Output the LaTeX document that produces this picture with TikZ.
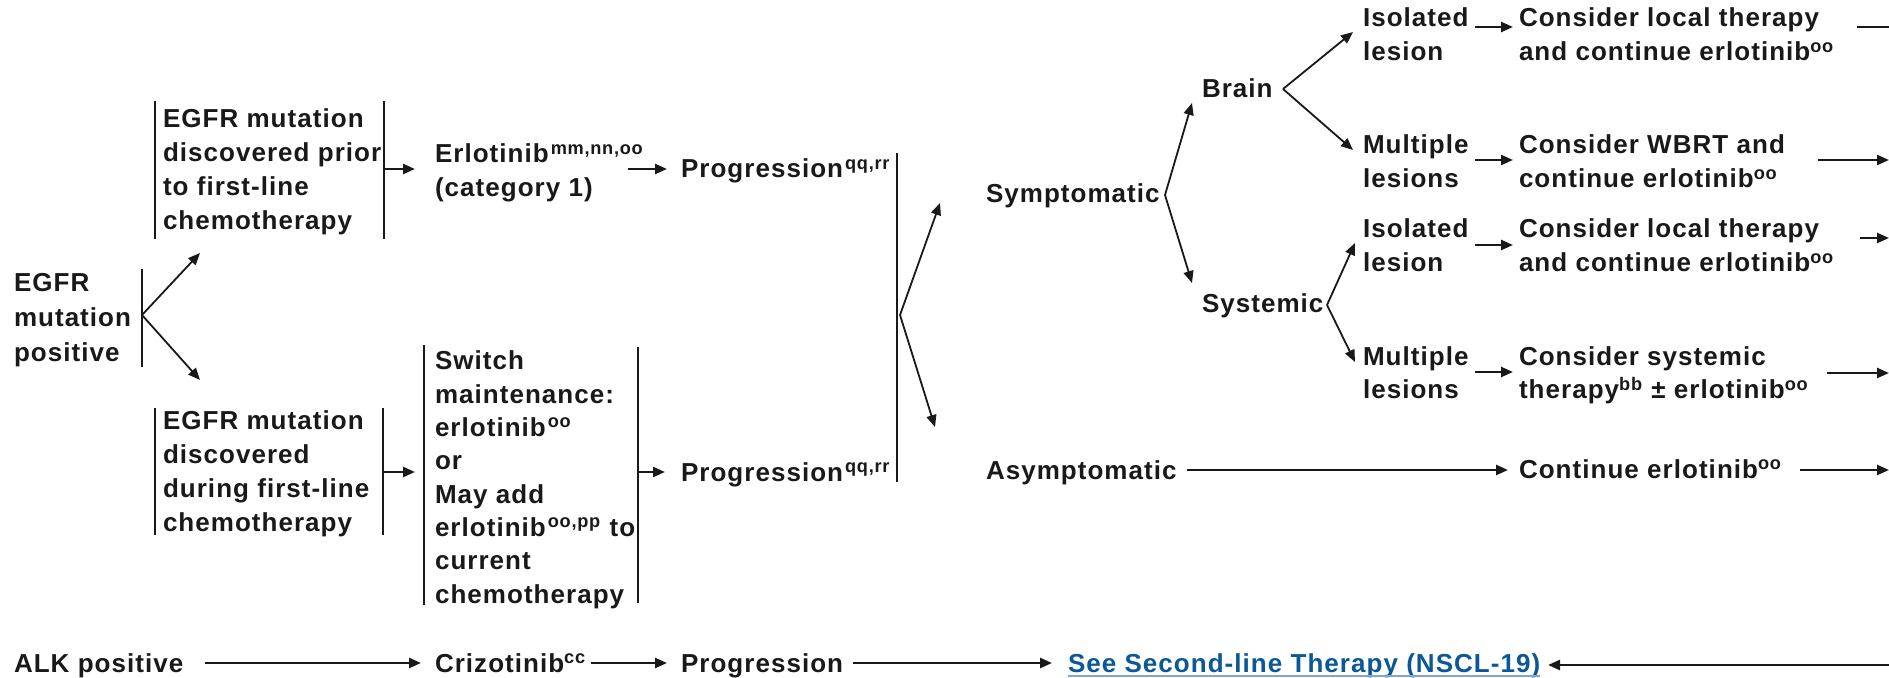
\documentclass[tikz,border=0pt]{standalone}
\usepackage{fontspec}
\setmainfont{Liberation Sans}[LetterSpace=4]
\usetikzlibrary{arrows.meta}
\definecolor{linkblue}{RGB}{10,88,150}
\definecolor{ulblue}{RGB}{130,165,205}
\definecolor{ink}{RGB}{25,25,25}
\newcommand\supx[1]{\kern1pt\textsuperscript{#1}}
\begin{document}
\begin{tikzpicture}[x=0.5pt,y=-0.5pt,
  txt/.style={anchor=base west, inner sep=0pt, outer sep=0pt, align=left, text=ink,
              font=\fontsize{13}{17}\selectfont\bfseries},
  arr/.style={draw=ink, line width=1.2pt, -{Triangle[length=6pt,width=5pt]}},
  diag/.style={draw=ink, line width=0.9pt, -{Triangle[length=6pt,width=5pt]}},
  plain/.style={draw=ink, line width=1.2pt},
  bar/.style={draw=ink, line width=1.3pt}]
\useasboundingbox (0,0) rectangle (1889,678);

% ---------- nodes (multi-line nodes placed by the baseline of their last line) ----------
\node[txt, font=\fontsize{13}{17.5}\selectfont\bfseries] (egfr) at (14,362) {EGFR\\mutation\\positive};
\node[txt] (prior) at (163,230) {EGFR mutation\\discovered prior\\to first-line\\chemotherapy};
\node[txt] (during) at (163,531) {EGFR mutation\\discovered\\during first-line\\chemotherapy};
\node[txt] (erl) at (435,197) {Erlotinib\supx{mm,nn,oo}\\(category 1)};
\node[txt] (prog1) at (681,178) {Progression\supx{qq,rr}};
\node[txt, font=\fontsize{13}{16.65}\selectfont\bfseries] (switch) at (435,603)
  {Switch\\maintenance:\\erlotinib\supx{oo}\\or\\May add\\erlotinib\supx{oo,pp} to\\current\\chemotherapy};
\node[txt] (prog2) at (681,481) {Progression\supx{qq,rr}};
\node[txt] (symp) at (986,203) {Symptomatic};
\node[txt] (asymp) at (986,480) {Asymptomatic};
\node[txt] (brain) at (1202,98) {Brain};
\node[txt] (syst) at (1202,313) {Systemic};
\node[txt] (iso1) at (1363,61) {Isolated\\lesion};
\node[txt] (mul1) at (1363,188) {Multiple\\lesions};
\node[txt] (iso2) at (1363,272) {Isolated\\lesion};
\node[txt] (mul2) at (1363,399) {Multiple\\lesions};
\node[txt] (loc1) at (1519,61) {Consider local therapy\\and continue erlotinib\textsuperscript{oo}};
\node[txt] (wbrt) at (1519,188) {Consider WBRT and\\continue erlotinib\textsuperscript{oo}};
\node[txt] (loc2) at (1519,272) {Consider local therapy\\and continue erlotinib\textsuperscript{oo}};
\node[txt] (sysT) at (1519,399) {Consider systemic\\therapy\textsuperscript{bb} ± erlotinib\textsuperscript{oo}};
\node[txt] (cont) at (1519,478) {Continue erlotinib\textsuperscript{oo}};
\node[txt] (alk) at (14,672) {ALK positive};
\node[txt] (criz) at (435,672) {Crizotinib\textsuperscript{cc}};
\node[txt] (prog3) at (681,672) {Progression};
\node[txt, text=linkblue] (see) at (1068,672) {See Second-line Therapy (NSCL-19)};
\draw[ulblue, line width=0.6pt] ([yshift=-2pt]see.base west) -- ([yshift=-2pt]see.base east);

% ---------- brackets ----------
\draw[bar] (142,269) -- (142,367);
\draw[bar] (155,101) -- (155,239);
\draw[bar] (384,101) -- (384,239);
\draw[bar] (155,408) -- (155,535);
\draw[bar] (383,408) -- (383,535);
\draw[bar] (424,345) -- (424,605);
\draw[bar] (638,347) -- (638,603);
\draw[bar] (897,153) -- (897,482);

% ---------- coordinates ----------
\coordinate (b0) at (142,315);  \coordinate (b0u) at (200,253); \coordinate (b0d) at (200,380);
\coordinate (p1) at (384,169);  \coordinate (p1e) at (415,169);
\coordinate (d1) at (383,472);  \coordinate (d1e) at (415,472);
\coordinate (e1) at (628,169);  \coordinate (e1e) at (667,169);
\coordinate (s1) at (638,472);  \coordinate (s1e) at (665,472);
\coordinate (g0) at (900,315);  \coordinate (g0u) at (940,203); \coordinate (g0d) at (935,427);
\coordinate (sy) at (1165,195); \coordinate (syu) at (1192,103); \coordinate (syd) at (1192,283);
\coordinate (br) at (1283,89);  \coordinate (bru) at (1353,32);  \coordinate (brd) at (1353,150);
\coordinate (st) at (1327,305); \coordinate (stu) at (1355,243); \coordinate (std) at (1355,362);
\coordinate (i1) at (1475,27);  \coordinate (i1e) at (1513,27);
\coordinate (m1) at (1475,160); \coordinate (m1e) at (1513,160);
\coordinate (i2) at (1475,245); \coordinate (i2e) at (1513,245);
\coordinate (m2) at (1475,372); \coordinate (m2e) at (1513,372);
\coordinate (r1) at (1857,27);  \coordinate (r1e) at (1889,27);
\coordinate (r2) at (1818,160); \coordinate (r2e) at (1889,160);
\coordinate (r3) at (1860,238); \coordinate (r3e) at (1889,238);
\coordinate (r4) at (1827,373); \coordinate (r4e) at (1889,373);
\coordinate (r5) at (1800,470); \coordinate (r5e) at (1889,470);
\coordinate (as) at (1187,470); \coordinate (ase) at (1508,470);
\coordinate (k1) at (205,663);  \coordinate (k1e) at (421,663);
\coordinate (k2) at (591,663);  \coordinate (k2e) at (667,663);
\coordinate (k3) at (853,663);  \coordinate (k3e) at (1052,663);
\coordinate (k4) at (1889,665); \coordinate (k4e) at (1548,665);

% ---------- connectors ----------
\draw[diag] (b0) -- (b0u);
\draw[diag] (b0) -- (b0d);
\draw[arr] (p1) -- (p1e);
\draw[arr] (d1) -- (d1e);
\draw[arr] (e1) -- (e1e);
\draw[arr] (s1) -- (s1e);
\draw[diag] (g0) -- (g0u);
\draw[diag] (g0) -- (g0d);
\draw[diag] (sy) -- (syu);
\draw[diag] (sy) -- (syd);
\draw[diag] (br) -- (bru);
\draw[diag] (br) -- (brd);
\draw[diag] (st) -- (stu);
\draw[diag] (st) -- (std);
\draw[arr] (i1) -- (i1e);
\draw[arr] (m1) -- (m1e);
\draw[arr] (i2) -- (i2e);
\draw[arr] (m2) -- (m2e);
\draw[plain] (r1) -- (r1e);
\draw[arr] (r2) -- (r2e);
\draw[arr] (r3) -- (r3e);
\draw[arr] (r4) -- (r4e);
\draw[arr] (r5) -- (r5e);
\draw[arr] (as) -- (ase);
\draw[arr] (k1) -- (k1e);
\draw[arr] (k2) -- (k2e);
\draw[arr] (k3) -- (k3e);
\draw[arr] (k4) -- (k4e);
\end{tikzpicture}
\end{document}
